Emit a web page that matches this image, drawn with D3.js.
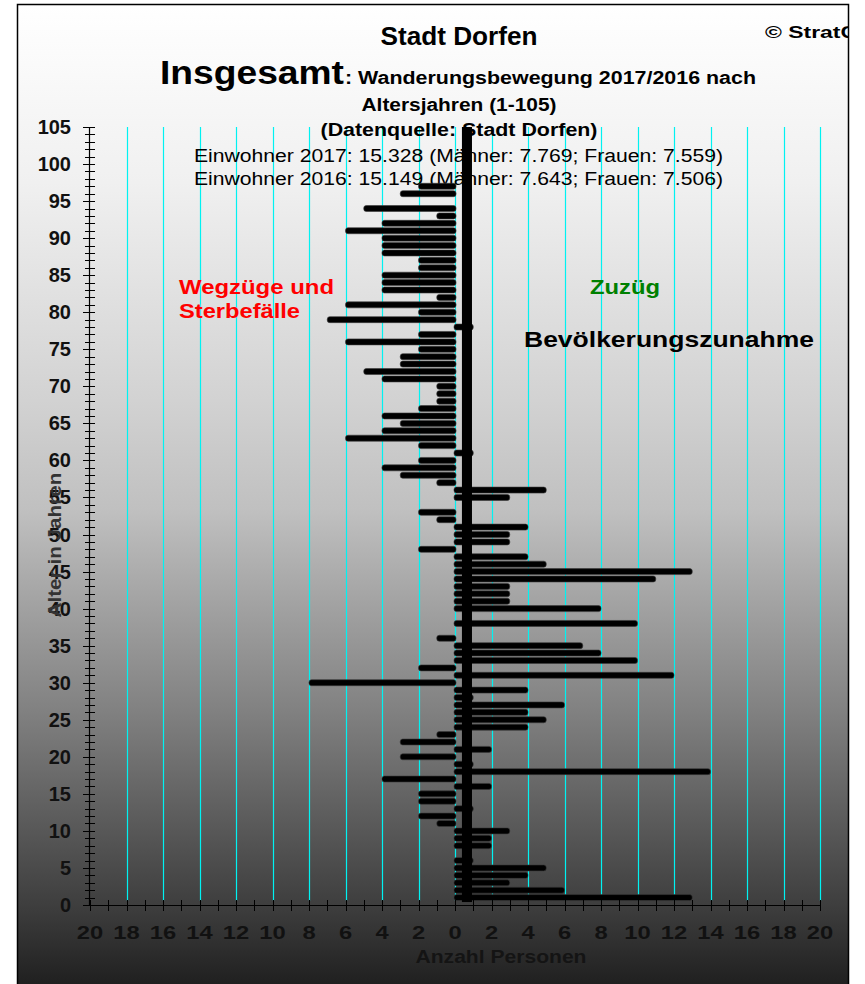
<!DOCTYPE html>
<html>
<head>
<meta charset="utf-8">
<script src="https://cdn.jsdelivr.net/npm/d3@7"></script>
<style>
  body { margin: 0; background: #fff; }
  svg { display: block; font-family: "Liberation Sans", Arial, Helvetica, sans-serif; }
</style>
</head>
<body>
<script>
// Net migration per age year 1..105 (negative = Wegzüge/Sterbefälle, positive = Zuzüge)
const netMigration = [
  13, 6, 3, 4, 5, 1, 0, 2, 2, 3,
  -1, -2, 1, -2, -2, 2, -4, 14, 1, -3,
  2, -3, -1, 4, 5, 4, 6, 1, 4, -8,
  12, -2, 10, 8, 7, -1, 0, 10, 0, 8,
  3, 3, 3, 11, 13, 5, 4, -2, 3, 3,
  4, -1, -2, 0, 3, 5, -1, -3, -4, -2,
  1, -2, -6, -4, -3, -4, -2, -1, -1, -1,
  -4, -5, -3, -3, -2, -6, -2, 1, -7, -2,
  -6, -1, -4, -4, -4, -2, -2, -4, -4, -4,
  -6, -4, -1, -5, 0, -3, -2, 0, 0, 0,
  0, 0, 0, 0, 0
];
const ages = netMigration.map((_, i) => i + 1);

// Axis ticks
const xTickValues = [-20, -18, -16, -14, -12, -10, -8, -6, -4, -2, 0, 2, 4, 6, 8, 10, 12, 14, 16, 18, 20];
const yTickValues = [0, 5, 10, 15, 20, 25, 30, 35, 40, 45, 50, 55, 60, 65, 70, 75, 80, 85, 90, 95, 100, 105];

// Thick vertical reference band near zero
const centreBandX = [0.38, 0.93];
const centreBandAge = [0.4, 105];

const W = 865, H = 984;
const svg = d3.select("body").append("svg").attr("width", W).attr("height", H);

const x = d3.scaleLinear().domain([-20, 20]).range([90, 820]);
const y = d3.scaleLinear().domain([0, 105]).range([905, 127]);

// Background panel with vertical gradient
const defs = svg.append("defs");
const grad = defs.append("linearGradient").attr("id", "bg")
  .attr("x1", 0).attr("y1", 0).attr("x2", 0).attr("y2", 1);
[[0, "#ffffff"], [0.18, "#f0f0f0"], [0.40, "#d2d2d2"], [0.51, "#c0c0c0"],
 [0.71, "#828282"], [0.91, "#3e3e3e"], [1, "#1c1c1c"]]
  .forEach(([o, c]) => grad.append("stop").attr("offset", o).attr("stop-color", c));
defs.append("clipPath").attr("id", "frameClip")
  .append("rect").attr("x", 17).attr("y", 4).attr("width", 831).attr("height", 990);

svg.append("rect").attr("x", 17.5).attr("y", 4.5).attr("width", 831).attr("height", 990)
  .attr("fill", "url(#bg)").attr("stroke", "#000").attr("stroke-width", 1.5);

const root = svg.append("g").attr("clip-path", "url(#frameClip)");

// Text helper: optional textLength to fit a given width
function label(str, px, py, size, o = {}) {
  const t = root.append("text").attr("x", px).attr("y", py)
    .attr("font-size", size)
    .attr("font-weight", o.weight || "bold")
    .attr("fill", o.fill || "#000")
    .attr("text-anchor", o.anchor || "start")
    .text(str);
  if (o.len) t.attr("textLength", o.len).attr("lengthAdjust", "spacingAndGlyphs");
  if (o.transform) t.attr("transform", o.transform);
  return t;
}

// Vertical cyan gridlines
root.append("g").selectAll("line").data(xTickValues.filter(v => v > -20))
  .join("line")
  .attr("x1", d => Math.round(x(d)) + 0.5).attr("x2", d => Math.round(x(d)) + 0.5)
  .attr("y1", y(105)).attr("y2", y(0) - 4)
  .attr("stroke", "#00f2f2").attr("stroke-width", 1.2);

// Titles
label("Stadt Dorfen", 459, 45, 25, { anchor: "middle", len: 157 });
label("© StratC", 765, 38, 17, { len: 92 });
label("Insgesamt", 160, 84, 33, { len: 184 });
label(": Wanderungsbewegung 2017/2016 nach", 345, 84, 18, { len: 411 });
label("Altersjahren (1-105)", 459, 111, 18, { anchor: "middle", len: 195 });
label("(Datenquelle: Stadt Dorfen)", 459, 136, 18, { anchor: "middle", len: 277 });
label("Einwohner 2017: 15.328 (Männer: 7.769; Frauen: 7.559)", 458.5, 162, 18, { anchor: "middle", len: 529, weight: "normal" });
label("Einwohner 2016: 15.149 (Männer: 7.643; Frauen: 7.506)", 458.5, 185, 18, { anchor: "middle", len: 529, weight: "normal" });

// Annotations
label("Wegzüge und", 179, 294, 20, { fill: "#ff0000", len: 155 });
label("Sterbefälle", 179, 318, 20, { fill: "#ff0000", len: 121 });
label("Zuzüg", 590, 294, 20, { fill: "#008000", len: 70 });
label("Bevölkerungszunahme", 524, 347, 22, { len: 290 });

// Net migration bars
const barH = 6;
root.append("g").selectAll("rect").data(ages)
  .join("rect")
  .attr("x", (d, i) => netMigration[i] < 0 ? x(netMigration[i]) : x(0) - 1)
  .attr("width", (d, i) => netMigration[i] < 0 ? x(0) + 1 - x(netMigration[i]) : x(netMigration[i]) - x(0) + 1)
  .attr("y", d => y(d) - barH / 2)
  .attr("height", barH)
  .attr("rx", 2.5)
  .attr("fill", "#000")
  .attr("stroke", "#3a3a3a").attr("stroke-width", 0.6)
  .style("display", (d, i) => netMigration[i] === 0 ? "none" : null);

// Central thick band
root.append("rect")
  .attr("x", x(centreBandX[0])).attr("width", x(centreBandX[1]) - x(centreBandX[0]))
  .attr("y", y(centreBandAge[1])).attr("height", y(centreBandAge[0]) - y(centreBandAge[1]))
  .attr("fill", "#000");

// Y axis: line, minor and major ticks, labels
const yAxis = root.append("g");
yAxis.append("line").attr("x1", 89.5).attr("x2", 89.5).attr("y1", y(105)).attr("y2", y(0))
  .attr("stroke", "#000").attr("stroke-width", 1.2);
yAxis.selectAll("line.tick").data(d3.range(0, 106))
  .join("line").attr("class", "tick")
  .attr("x1", d => d % 5 === 0 ? 83 : 85).attr("x2", 95)
  .attr("y1", d => Math.round(y(d)) + 0.5).attr("y2", d => Math.round(y(d)) + 0.5)
  .attr("stroke", "#000").attr("stroke-width", 1);
yAxis.selectAll("text").data(yTickValues)
  .join("text")
  .attr("x", 71).attr("y", d => y(d) + 7)
  .attr("text-anchor", "end").attr("font-size", 20).attr("font-weight", "bold")
  .attr("fill", "#111")
  .text(d => d);

// X axis: line, ticks, labels (absolute counts on both sides)
const xAxis = root.append("g");
xAxis.append("line").attr("x1", 89).attr("x2", 820).attr("y1", 905.5).attr("y2", 905.5)
  .attr("stroke", "#000").attr("stroke-width", 1.2);
xAxis.selectAll("line.tick").data(d3.range(-20, 21))
  .join("line").attr("class", "tick")
  .attr("x1", d => Math.round(x(d)) + 0.5).attr("x2", d => Math.round(x(d)) + 0.5)
  .attr("y1", 900).attr("y2", 911)
  .attr("stroke", "#000").attr("stroke-width", 1);
xAxis.selectAll("text").data(xTickValues)
  .join("text")
  .attr("x", d => x(d)).attr("y", 939)
  .attr("text-anchor", "middle").attr("font-size", 19).attr("font-weight", "bold")
  .attr("fill", "#111")
  .attr("textLength", d => String(Math.abs(d)).length * 13.2)
  .attr("lengthAdjust", "spacingAndGlyphs")
  .text(d => Math.abs(d));

// Axis titles
label("Anzahl Personen", 501, 963, 18, { anchor: "middle", fill: "#141414", len: 171 });
label("Alter in Jahren", 0, 0, 18, {
  anchor: "middle", fill: "#333", len: 145,
  transform: "translate(61,545) rotate(-90)"
});
</script>
</body>
</html>
